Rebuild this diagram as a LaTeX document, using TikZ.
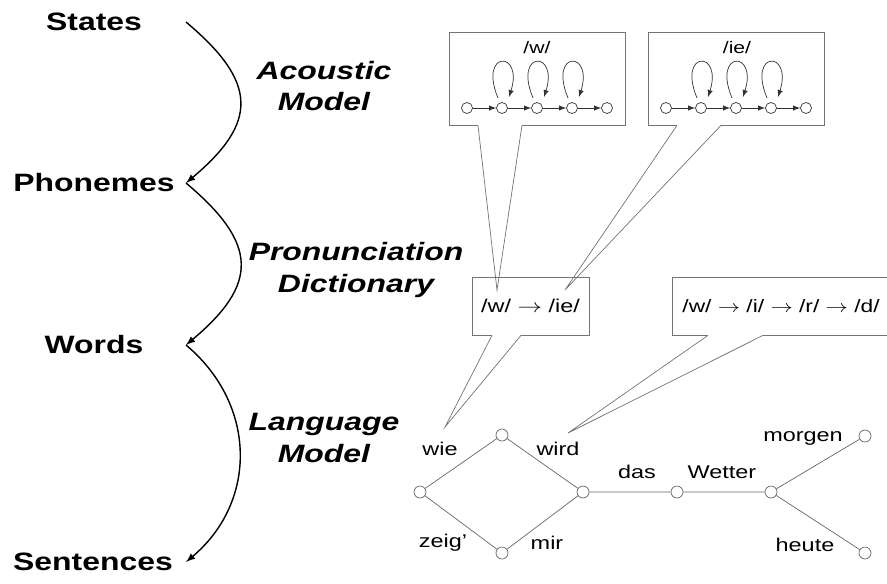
\documentclass[tikz,border=0pt]{standalone}
\usepackage{fontspec}
\setmainfont{Liberation Sans}
\begin{document}
\begin{tikzpicture}[
        x=0.02cm, y=0.02cm, % one unit is one pixel of the sketch
        stage/.style = {font=\bfseries\fontsize{14.3}{18}\selectfont, xscale=1.27},
        model/.style = {font=\bfseries\itshape\fontsize{14.3}{18}\selectfont, align=center, xscale=1.27},
        flow/.style = {draw, line width=0.8pt, -latex},
        bubble/.style = {draw=black!55, rectangle, inner sep=0pt},
        tail/.style = {draw=black!55},
        hmm/.style = {draw=black!80, -latex},
        hstate/.style = {circle, draw=black!80, inner sep=0pt, minimum size=0.22cm},
        vert/.style = {circle, draw=black!60, inner sep=0pt, minimum size=0.24cm},
        lm/.style = {draw=black!60},
        word/.style = {font=\fontsize{10.5}{12}\selectfont, xscale=1.27},
        phon/.style = {font=\fontsize{9.5}{11}\selectfont, xscale=1.27},
    ]
    \useasboundingbox (0,0) rectangle (887,-583);

    % Ebenen links
    \node[stage] (States) at (94,-22) {States};
    \node[stage] (Phonemes) at (94,-183) {Phonemes};
    \node[stage] (Words) at (94,-345) {Words};
    \node[stage] (Sentences) at (93,-562) {Sentences};
    \coordinate (arr) at (186,0);

    \draw[flow] (States -| arr) to[out=-40, in=40, looseness=1.5] (Phonemes -| arr);
    \draw[flow] (Phonemes -| arr) to[out=-40, in=40, looseness=1.5] (Words -| arr);
    \draw[flow] (Words -| arr) to[out=-40, in=40, looseness=1.1] (Sentences -| arr);

    \node[model] (am) at (324,-86) {Acoustic\\Model};
    \node[model] (pd) at (356,-270) {Pronunciation\\Dictionary};
    \node[model] (lmod) at (324,-438) {Language\\Model};

    % Sprechblasen
    \node[bubble, minimum width=3.52cm, minimum height=1.86cm] (wbox) at (537,-78.5) {};
    \node[bubble, minimum width=3.52cm, minimum height=1.86cm] (iebox) at (736,-78.5) {};
    \node[bubble, minimum width=2.34cm, minimum height=1.16cm] (dictbox) at (530.5,-306) {};
    \node[bubble, minimum width=4.66cm, minimum height=1.16cm, anchor=west] (wirdbox) at (672,-306) {};

    \node[phon] (wlab) at (537,-48) {/w/};
    \node[phon] (ielab) at (737,-48) {/ie/};
    \node[word] (dicttext) at (dictbox) {/w/ $\rightarrow$ /ie/};
    \node[word, font=\fontsize{10.2}{12}\selectfont, inner xsep=0pt, anchor=west] (wirdtext) at ([xshift=0.2cm]wirdbox.west) {/w/ $\rightarrow$ /i/ $\rightarrow$ /r/ $\rightarrow$ /d/};

    % HMM-Zustaende
    \foreach \i in {1,...,5} {
        \node[hstate] (w\i) at ({537+(\i-3)*35},-108) {};
        \node[hstate] (ie\i) at ({736+(\i-3)*35},-108) {};
    }
    \foreach \a/\b in {1/2,2/3,3/4,4/5} {
        \draw[hmm] (w\a) -- (w\b);
        \draw[hmm] (ie\a) -- (ie\b);
    }
    \foreach \i in {2,3,4} {
        \draw[hmm] ([shift={(-4,10)}]w\i.center) .. controls +(-20,48) and +(15,47) .. ([shift={(7,11)}]w\i.center);
        \draw[hmm] ([shift={(-4,10)}]ie\i.center) .. controls +(-20,48) and +(15,47) .. ([shift={(7,11)}]ie\i.center);
    }

    % Wortgraph
    \node[vert] (v1) at (420,-492) {};
    \node[vert] (v2) at (502,-435) {};
    \node[vert] (v3) at (502,-553) {};
    \node[vert] (v4) at (583,-492) {};
    \node[vert] (v5) at (677,-492) {};
    \node[vert] (v6) at (771,-492) {};
    \node[vert] (v7) at (865,-436) {};
    \node[vert] (v8) at (865,-553) {};
    \draw[lm] (v1) -- (v2) -- (v4) -- (v3) -- (v1);
    \draw[lm] (v4) -- (v5) -- (v6) -- (v7);
    \draw[lm] (v6) -- (v8);

    \node[word] (wie) at (440,-449) {wie};
    \node[word] (wird) at (558,-449) {wird};
    \node[word] (zeig) at (443,-543) {zeig'};
    \node[word] (mir) at (547,-543) {mir};
    \node[word] (das) at (637,-472) {das};
    \node[word] (wetter) at (722,-472) {Wetter};
    \node[word] (morgen) at (803,-438) {morgen};
    \node[word] (heute) at (805,-545) {heute};

    % Zeiger der Blasen
    \coordinate (tipw) at (497,-290);
    \coordinate (tipie) at (565,-290);
    \coordinate (tipwie) at (445,-427);
    \coordinate (tipwird) at (568,-433);
    \foreach \bx/\tip/\l/\r in {wbox/tipw/-59/-15, iebox/tipie/-59/-15, dictbox/tipwie/-38.5/-9.5} {
        \draw[white, line width=1.2pt] ([xshift=\l*0.02cm]\bx.south) -- ([xshift=\r*0.02cm]\bx.south);
        \draw[tail] ([xshift=\l*0.02cm]\bx.south) -- (\tip) -- ([xshift=\r*0.02cm]\bx.south);
    }
    \draw[white, line width=1.2pt] ([xshift=0.72cm]wirdbox.south west) -- ([xshift=1.82cm]wirdbox.south west);
    \draw[tail] ([xshift=0.72cm]wirdbox.south west) -- (tipwird) -- ([xshift=1.82cm]wirdbox.south west);
\end{tikzpicture}
\end{document}
